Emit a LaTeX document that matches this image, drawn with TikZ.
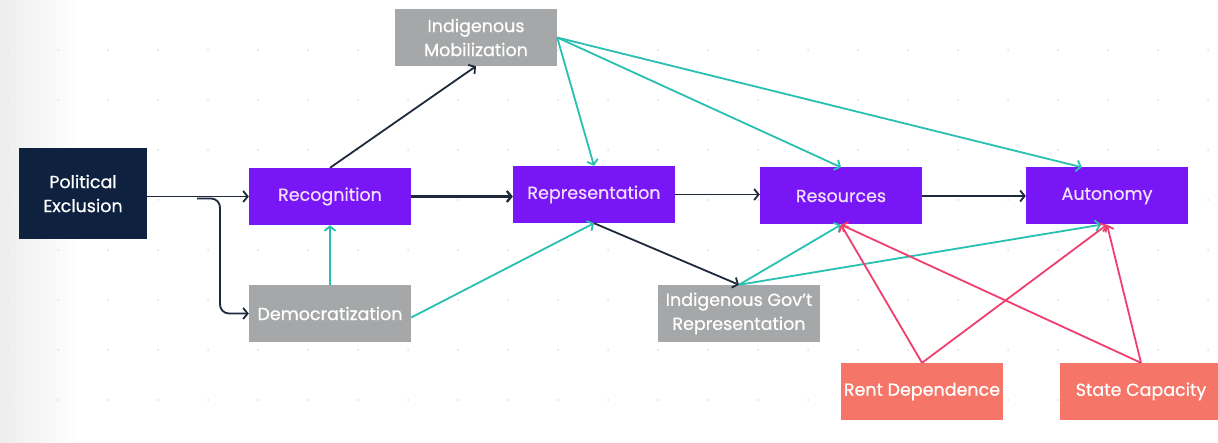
\documentclass[tikz,border=0pt]{standalone}
\usepackage{fontspec}
\setmainfont[FakeBold=0.6]{Poppins}
\usetikzlibrary{arrows.meta,calc,positioning}
\definecolor{navy}{RGB}{14,34,64}
\definecolor{violetbox}{RGB}{120,22,246}
\definecolor{lilac}{RGB}{242,222,255}
\definecolor{greybox}{RGB}{166,167,168}
\definecolor{salmon}{RGB}{245,118,104}
\definecolor{ink}{RGB}{30,42,60}
\definecolor{tealline}{RGB}{40,192,176}
\definecolor{pinkline}{RGB}{240,62,110}
\definecolor{dotgrey}{RGB}{222,224,228}

\begin{document}
\begin{tikzpicture}[x=1pt, y=-1pt,
  box/.style={minimum width=162pt, minimum height=57pt, inner sep=2pt, align=center,
    font=\fontsize{17.5}{24}\selectfont, text=white},
  violet node/.style={box, fill=violetbox, text=lilac},
  grey node/.style={box, fill=greybox},
  salmon node/.style={box, fill=salmon},
  link/.style={line width=1.8pt, -{Straight Barb[length=4.5pt, width=11pt]}},
  dark link/.style={link, draw=ink},
  teal link/.style={link, draw=tealline},
  pink link/.style={link, draw=pinkline}]

\useasboundingbox (0,0) rectangle (1218,443);
\fill[white] (0,0) rectangle (1218,443);
\shade[left color=gray!14, right color=white] (0,0) rectangle (80,443);
\foreach \i in {0,...,24} {\foreach \j in {1,...,8} {\fill[dotgrey] (8+50*\i, 50*\j) circle (1pt);}}

% nodes
\node[box, fill=navy, minimum width=128pt, minimum height=91pt] (excl) at (83,193.5) {Political\\Exclusion};
\node[violet node] (recog) at (330,196.5) {Recognition};
\node[grey node] (democ) at (330,313.5) {Democratization};
\node[grey node] (mobil) at (476,37.5) {Indigenous\\Mobilization};
\node[violet node] (repr) at (594,194.5) {Representation};
\node[violet node] (resou) at (841,196) {Resources};
\node[violet node] (auton) at (1107,196) {Autonomy};
\node[grey node] (govrep) at (739,313.5) {Indigenous Gov't\\Representation};
\node[salmon node] (rent) at (922,391.5) {Rent Dependence};
\node[salmon node] (state) at (1141,391.5) {State Capacity};

% main chain
\draw[dark link] (excl.east |- recog.west) -- (recog.west);
\coordinate (fork) at (197,198.5);
\draw[dark link, rounded corners=9pt] (fork) -- ++(23,0) |- (democ.west);
\draw[dark link, line width=2.3pt] (recog.east) -- (recog.east -| repr.west);
\draw[dark link] (recog.north) -- (mobil.south);
\draw[dark link] (repr.east) -- (repr.east -| resou.west);
\draw[dark link] (repr.south) -- (govrep.north);
\draw[dark link] (resou.east) -- (auton.west);

% mobilization and democratization
\draw[teal link] (democ.north) -- (recog.south);
\draw[teal link] (democ.east) ++(0,4) -- (repr.south);
\draw[teal link] (mobil.east) -- (repr.north);
\draw[teal link] (mobil.east) -- (resou.north);
\draw[teal link] (mobil.east) -- ([xshift=-25pt]auton.north);
\draw[teal link] (govrep.north) -- (resou.south);
\draw[teal link] (govrep.north) -- ([xshift=-6pt]auton.south);

% rents and capacity
\draw[pink link] (rent.north) -- (resou.south);
\draw[pink link] (rent.north) -- (auton.south);
\draw[pink link] (state.north) -- (resou.south);
\draw[pink link] (state.north) -- (auton.south);
\end{tikzpicture}
\end{document}
